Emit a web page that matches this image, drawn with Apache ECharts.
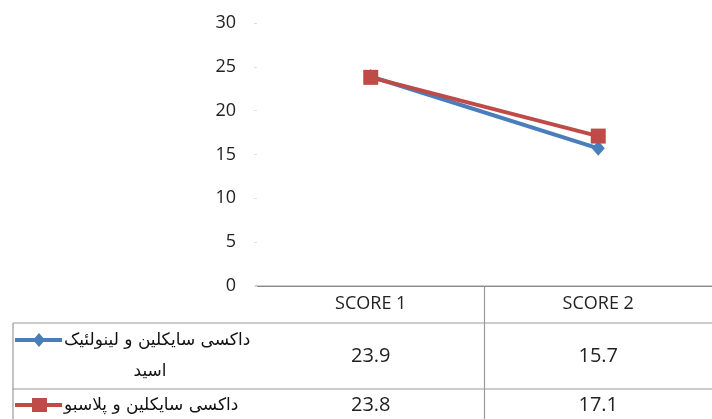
<!DOCTYPE html>
<html><head><meta charset="utf-8">
<script src="https://cdn.jsdelivr.net/npm/echarts@6/dist/echarts.min.js"></script>
<style>html,body{margin:0;padding:0;background:#fff}#c{width:712px;height:419px}</style>
</head><body><div id="c"></div>
<script>
var categories = ['SCORE 1', 'SCORE 2'];
var seriesNames = ['داکسی سایکلین و لینولئیک اسید', 'داکسی سایکلین و پلاسبو'];
var legendLine1 = ['داکسی سایکلین و لینولئیک', 'داکسی سایکلین و پلاسبو'];
var legendLine2 = ['اسید', ''];
var blueValues = [23.9, 15.7];
var redValues = [23.8, 17.1];
var yTicks = [0, 5, 10, 15, 20, 25, 30];

var blue = '#4A7EBB', red = '#BE4B48';
var chart = echarts.init(document.getElementById('c'), null, {renderer: 'canvas'});
var numFont = '"Open Sans", sans-serif';
chart.setOption({
  animation: false,
  grid: {left: 257, top: 23, width: 464, height: 263},
  xAxis: {
    type: 'category', data: categories, boundaryGap: true,
    axisLine: {lineStyle: {color: '#8a8a8a', width: 1}},
    axisTick: {show: false},
    axisLabel: {color: '#222', fontSize: 18, fontFamily: numFont, margin: 9}
  },
  yAxis: {
    type: 'value', min: yTicks[0], max: yTicks[yTicks.length - 1], interval: 5,
    axisLine: {show: false},
    axisTick: {show: true, length: 3, lineStyle: {color: '#e0e0e0'}},
    splitLine: {show: false},
    axisLabel: {color: '#222', fontSize: 18, fontFamily: numFont, margin: 21}
  },
  series: [
    {name: seriesNames[0], type: 'line', data: blueValues, symbol: 'diamond', symbolSize: [13, 15],
     lineStyle: {color: blue, width: 4}, itemStyle: {color: blue}},
    {name: seriesNames[1], type: 'line', data: redValues, symbol: 'rect', symbolSize: 15,
     lineStyle: {color: red, width: 4}, itemStyle: {color: red}}
  ]
});

var xs = categories.map(function (c) { return chart.convertToPixel({xAxisIndex: 0}, c); });
var gridLeft = 255;
var rowTop = [323, 389];
var rowBottom = 430;
var lineColor = '#9a9a9a';
var g = [];
function line(x1, y1, x2, y2) {
  g.push({type: 'line', shape: {x1: x1, y1: y1, x2: x2, y2: y2}, style: {stroke: lineColor, lineWidth: 1.2}, silent: true});
}
line(13, rowTop[0], 712, rowTop[0]);
line(13, rowTop[1], 712, rowTop[1]);
line(13, rowTop[0], 13, rowBottom);
line(gridLeft, 286, 712, 286);
line((xs[0] + xs[1]) / 2, 286, (xs[0] + xs[1]) / 2, rowBottom);

var valueRows = [blueValues, redValues];
var textY = [356, 405];
valueRows.forEach(function (vals, r) {
  vals.forEach(function (v, i) {
    g.push({type: 'text', x: xs[i], y: textY[r], silent: true,
      style: {text: v.toFixed(1), fill: '#222', font: '20px ' + numFont, textAlign: 'center', textVerticalAlign: 'middle'}});
  });
});
var keyY = [340, 405];
var keyColors = [blue, red];
keyColors.forEach(function (col, r) {
  g.push({type: 'line', shape: {x1: 15, y1: keyY[r], x2: 62, y2: keyY[r]}, style: {stroke: col, lineWidth: 4}, silent: true});
  if (r === 0) {
    g.push({type: 'polygon', shape: {points: [[39, keyY[r] - 7], [45, keyY[r]], [39, keyY[r] + 7], [33, keyY[r]]]}, style: {fill: col}, silent: true});
  } else {
    g.push({type: 'rect', shape: {x: 32, y: keyY[r] - 7, width: 15, height: 14}, style: {fill: col}, silent: true});
  }
  g.push({type: 'text', x: 64, y: keyY[r] + 1, silent: true,
    style: {text: legendLine1[r], fill: '#111', font: '17px "DejaVu Sans", sans-serif', textAlign: 'left', textVerticalAlign: 'middle'}});
  if (legendLine2[r]) {
    g.push({type: 'text', x: 150, y: 372, silent: true,
      style: {text: legendLine2[r], fill: '#111', font: '17px "DejaVu Sans", sans-serif', textAlign: 'center', textVerticalAlign: 'middle'}});
  }
});
chart.setOption({graphic: {elements: g}});
</script></body></html>
